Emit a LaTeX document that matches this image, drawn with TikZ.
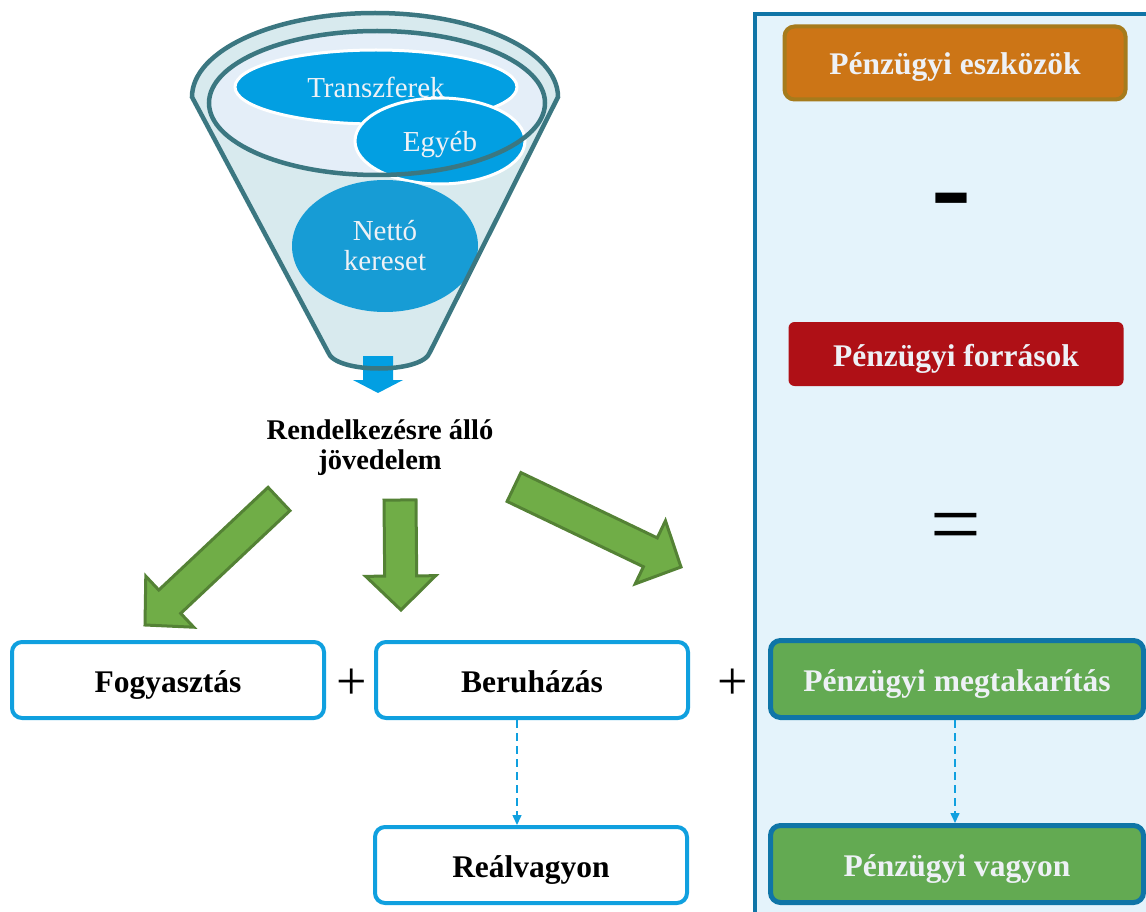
\documentclass[tikz,border=0pt]{standalone}
\usepackage{fontspec}
\setmainfont{Liberation Serif}
\usetikzlibrary{calc,shapes.geometric,arrows.meta}

\definecolor{panelfill}{HTML}{E4F3FB}
\definecolor{paneledge}{HTML}{0F75A7}
\definecolor{assetorange}{HTML}{CC7516}
\definecolor{assetedge}{HTML}{A67B1C}
\definecolor{sourcered}{HTML}{AF1016}
\definecolor{savegreen}{HTML}{63AA52}
\definecolor{boxblue}{HTML}{10A0DF}
\definecolor{arrowgreen}{HTML}{70AD47}
\definecolor{arrowedge}{HTML}{548235}
\definecolor{funnelfill}{HTML}{D8EAEE}
\definecolor{innerfill}{HTML}{E4EEF8}
\definecolor{funneledge}{HTML}{3B7781}
\definecolor{bubbleblue}{HTML}{029FE2}
\definecolor{netblue}{HTML}{179CD5}
\definecolor{boxtext}{HTML}{EEF1F6}

% block arrow from tail #1 to tip #2
\newcommand{\bigarrow}[2]{%
  \path ($(#2)!34pt!(#1)$) coordinate (hb);
  \draw[greenarrow] ($(#1)!16pt!90:(#2)$) -- ($(hb)!16pt!90:(#2)$)
    -- ($(hb)!35pt!90:(#2)$) -- (#2) -- ($(hb)!35pt!-90:(#2)$)
    -- ($(hb)!16pt!-90:(#2)$) -- ($(#1)!16pt!-90:(#2)$) -- cycle;
}

\begin{document}
\begin{tikzpicture}[x=1pt, y=-1pt,
    boxfont/.style={font=\fontsize{31.5}{36}\selectfont\bfseries, text height=24pt, text depth=0pt},
    lbox/.style={boxfont, draw=boxblue, line width=4pt, fill=white, rounded corners=10pt,
      minimum width=312pt, minimum height=76pt},
    gbox/.style={boxfont, draw=paneledge, line width=5pt, fill=savegreen, text=boxtext,
      rounded corners=10pt, minimum width=373pt, minimum height=77pt},
    dasharrow/.style={draw=boxblue, line width=1.5pt, dash pattern=on 8pt off 5pt,
      -{Triangle[length=10pt,width=9pt]}},
    greenarrow/.style={draw=arrowedge, fill=arrowgreen, line width=3pt, line join=miter},
    bubble/.style={ellipse, draw=white, line width=3pt, fill=bubbleblue, text=boxtext,
      inner sep=0pt, font=\fontsize{29}{30}\selectfont}]
  \useasboundingbox (0,0) rectangle (1146,912);

  % Right panel
  \draw[draw=paneledge, fill=panelfill, line width=4pt] (755,14) rectangle (1152,918);

  % Funnel
  \fill[funnelfill] (192,97) arc[start angle=180, end angle=0, x radius=183pt, y radius=84pt]
    -- (430,352) .. controls (423,374) and (335,374) .. (328,352) -- cycle;
  \fill[innerfill] (377,103) ellipse[x radius=168pt, y radius=72pt];
  \node[bubble, minimum width=282pt, minimum height=74pt] (transf) at (376,87) {Transzferek};
  \node[bubble, minimum width=170pt, minimum height=86pt, text height=21pt, text depth=0pt]
    (egyeb) at (440,141) {Egyéb};
  \node[bubble, draw=none, fill=netblue, align=center, minimum width=186pt,
    minimum height=132pt] (netto) at (385,246) {Nettó\\kereset};
  \fill[bubbleblue] (363,356) -- (393,356) -- (393,380) -- (403,380) -- (378,393)
    -- (353,380) -- (363,380) -- cycle;
  \draw[funneledge, line width=4.5pt] (377,103) ellipse[x radius=168pt, y radius=72pt];
  \draw[funneledge, line width=4.5pt] (192,97)
    arc[start angle=180, end angle=0, x radius=183pt, y radius=84pt]
    -- (430,352) .. controls (423,374) and (335,374) .. (328,352) -- cycle;

  \node[font=\fontsize{28.5}{30}\selectfont\bfseries, align=center] (income) at (380,448)
    {Rendelkezésre álló\\jövedelem};

  % Green block arrows
  \coordinate (lt) at (279,499); \coordinate (lh) at (145,625);
  \coordinate (mt) at (400,500); \coordinate (mh) at (401,610);
  \coordinate (rt) at (514,487); \coordinate (rh) at (681,567);
  \bigarrow{lt}{lh}
  \bigarrow{mt}{mh}
  \bigarrow{rt}{rh}

  % Left boxes
  \node[lbox] (fogy) at (168,680) {Fogyasztás};
  \node[lbox] (beru) at (532,680) {Beruházás};
  \node[lbox] (realv) at (531,865) {Reálvagyon};
  \node[font=\fontsize{54}{54}\selectfont] (plusa) at (352,684) {+};
  \node[font=\fontsize{54}{54}\selectfont] (plusb) at (733,684) {+};
  \draw[dasharrow] ([xshift=-15pt]beru.south) -- ([xshift=-14pt]realv.north);

  % Panel boxes
  \node[boxfont, draw=assetedge, line width=4pt, fill=assetorange, text=boxtext,
    rounded corners=10pt, minimum width=341pt, minimum height=73pt] (assets) at (955,63)
    {Pénzügyi eszközök};
  \node[font=\fontsize{120}{120}\selectfont\bfseries] (minus) at (951,210) {-};
  \node[boxfont, fill=sourcered, text=boxtext, rounded corners=6pt, minimum width=335pt,
    minimum height=64pt] (sources) at (956,354) {Pénzügyi források};
  \node[font=\fontsize{90}{90}\selectfont] (equals) at (956,534) {=};
  \node[gbox] (saving) at (957,679) {Pénzügyi megtakarítás};
  \node[gbox] (wealth) at (957,864) {Pénzügyi vagyon};
  \draw[dasharrow] ([xshift=-2pt]saving.south) -- ([xshift=-2pt]wealth.north);
\end{tikzpicture}
\end{document}
